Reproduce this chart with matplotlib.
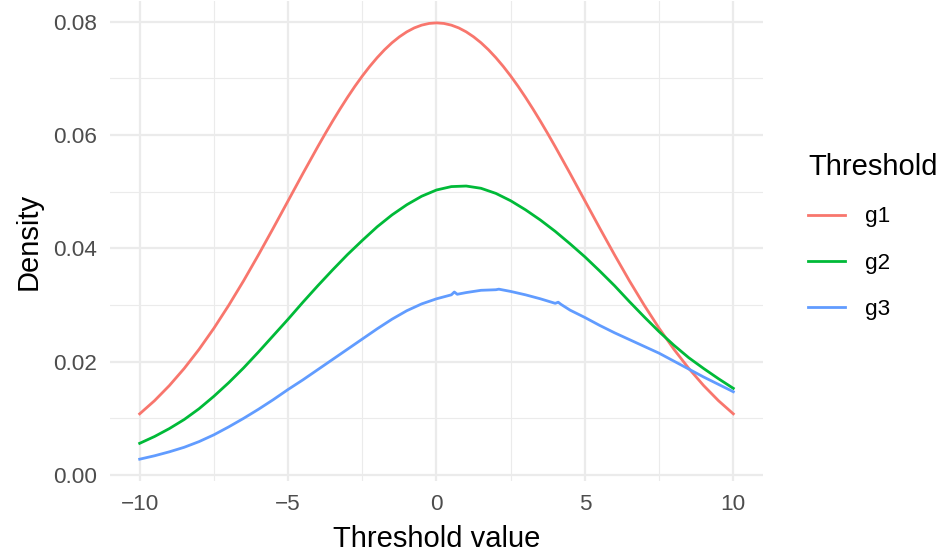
import numpy as np
import matplotlib
matplotlib.use("Agg")
import matplotlib.pyplot as plt

# values
x_g1 = [-10, -9.5, -9, -8.5, -8, -7.5, -7, -6.5, -6, -5.5, -5, -4.5, -4, -3.75, -3.5, -3.25, -3, -2.75,
        -2.5, -2.25, -2, -1.75, -1.5, -1.25, -1, -0.75, -0.5, -0.25, 0, 0.25, 0.5, 0.75, 1, 1.25, 1.5,
        1.75, 2, 2.25, 2.5, 2.75, 3, 3.25, 3.5, 3.75, 4, 4.5, 5, 5.5, 6, 6.5, 7, 7.5, 8, 8.5, 9, 9.5, 10]
y_g1 = [0.01080, 0.01312, 0.01579, 0.01881, 0.02218, 0.02590, 0.02995, 0.03427, 0.03884, 0.04357,
        0.04839, 0.05322, 0.05794, 0.06023, 0.06245, 0.06459, 0.06664, 0.06859, 0.07041, 0.07210,
        0.07365, 0.07505, 0.07628, 0.07733, 0.07821, 0.07890, 0.07939, 0.07969, 0.07979, 0.07969,
        0.07939, 0.07890, 0.07821, 0.07733, 0.07628, 0.07505, 0.07365, 0.07210, 0.07041, 0.06859,
        0.06664, 0.06459, 0.06245, 0.06023, 0.05794, 0.05322, 0.04839, 0.04357, 0.03884, 0.03427,
        0.02995, 0.02590, 0.02218, 0.01881, 0.01579, 0.01312, 0.01080]

x_g2 = [-10, -9.5, -9, -8.5, -8, -7.5, -7, -6.5, -6, -5.5, -5, -4.5, -4, -3.5, -3, -2.5, -2, -1.5, -1, -0.5,
        0, 0.5, 1, 1.5, 2, 2.5, 3, 3.5, 4, 4.5, 5, 5.5, 6, 6.5, 7, 7.5, 8, 8.5, 9, 9.5, 10]
y_g2 = [0.0056, 0.0068, 0.0082, 0.0098, 0.0117, 0.0139, 0.0163, 0.0189, 0.0217, 0.0246, 0.0275, 0.0305,
        0.0334, 0.0362, 0.0389, 0.0414, 0.0438, 0.0459, 0.0477, 0.0492,
        0.0503, 0.0509, 0.0510, 0.0506, 0.0497, 0.0484, 0.0468, 0.0450, 0.0430, 0.0408, 0.0385, 0.0360,
        0.0334, 0.0306, 0.0279, 0.0253, 0.0229, 0.0207, 0.0188, 0.0170, 0.0153]

x_g3 = [-10, -9.5, -9, -8.5, -8, -7.5, -7, -6.5, -6, -5.5, -5, -4.5, -4, -3.5, -3, -2.5, -2, -1.5, -1, -0.5,
        0, 0.5, 0.6, 0.7, 1, 1.5, 2, 2.1, 2.5, 3, 3.5, 4, 4.1, 4.2, 4.5, 5, 5.5, 6, 6.5, 7, 7.5, 8, 8.5,
        9, 9.5, 10]
y_g3 = [0.0028, 0.0034, 0.0041, 0.0049, 0.0059, 0.0071, 0.0085, 0.0100, 0.0116, 0.0133, 0.0151, 0.0168,
        0.0186, 0.0204, 0.0222, 0.0240, 0.0258, 0.0275, 0.0290, 0.0302,
        0.0311, 0.0318, 0.0323, 0.0319, 0.0322, 0.0326, 0.0327, 0.0328, 0.0324, 0.0318, 0.0311, 0.0303,
        0.0305, 0.0301, 0.0291, 0.0278, 0.0264, 0.0251, 0.0239, 0.0227, 0.0215, 0.0201, 0.0187,
        0.0173, 0.0160, 0.0147]

groups = ['g1', 'g2', 'g3']
colors = ['#F8766D', '#00BA38', '#619CFF']
x_ticks = [-10, -5, 0, 5, 10]
x_labels = ['\u221210', '\u22125', '0', '5', '10']
y_ticks = [0.00, 0.02, 0.04, 0.06, 0.08]
y_labels = ['0.00', '0.02', '0.04', '0.06', '0.08']

plt.rcParams['font.family'] = ['Liberation Sans', 'DejaVu Sans']

fig = plt.figure(figsize=(9.45, 5.54), dpi=100)
ax = fig.add_axes([110 / 945, 1 - 481 / 554, 653 / 945, 480 / 554])

series = [(x_g1, y_g1), (x_g2, y_g2), (x_g3, y_g3)]
for (xs, ys), name, col in zip(series, groups, colors):
    ax.plot(xs, ys, color=col, lw=2.0, label=name, solid_joinstyle='round')

ax.set_xlim(-11, 11)
ax.set_ylim(0.0028 - 0.00385, 0.0798 + 0.00385)
ax.set_xticks(x_ticks)
ax.set_xticklabels(x_labels)
ax.set_yticks(y_ticks)
ax.set_yticklabels(y_labels)
ax.set_xticks([-7.5, -2.5, 2.5, 7.5], minor=True)
ax.set_yticks([0.01, 0.03, 0.05, 0.07], minor=True)
ax.grid(True, which='major', color='#EBEBEB', lw=1.6)
ax.grid(True, which='minor', color='#EBEBEB', lw=0.8)
ax.set_axisbelow(True)
for s in ax.spines.values():
    s.set_visible(False)
ax.tick_params(which='both', length=0)
ax.tick_params(axis='both', labelsize=16.2, labelcolor='#4D4D4D', pad=9.5)

ax.set_xlabel('Threshold value', fontsize=21, labelpad=7)
ax.set_ylabel('Density', fontsize=21, labelpad=7)

leg = ax.legend(title='Threshold', loc='upper left', bbox_to_anchor=(808 / 945, 1 - 153 / 554),
                bbox_transform=fig.transFigure, frameon=False, fontsize=16.2,
                title_fontsize=21, handlelength=1.65, handletextpad=0.9, labelspacing=1.13,
                alignment='left', borderaxespad=0, borderpad=0)

fig.savefig('out.png', dpi=100)
